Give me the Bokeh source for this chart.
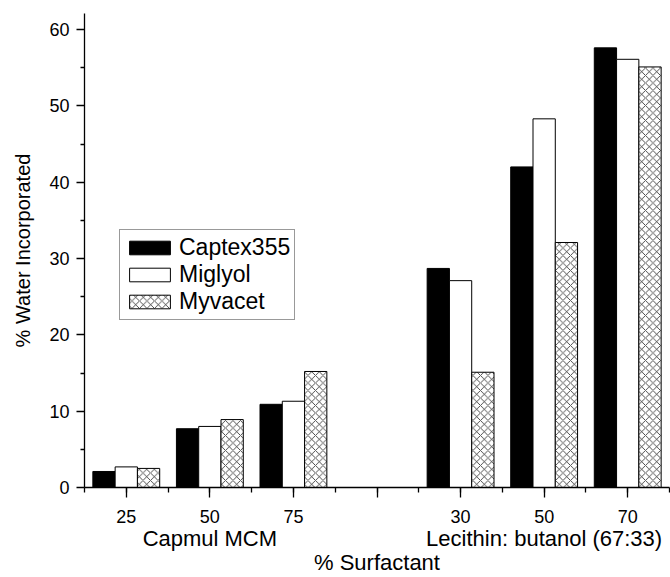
from bokeh.plotting import figure
from bokeh.models import (ColumnDataSource, Range1d, LinearAxis, FixedTicker,
                          Legend, LegendItem)
from bokeh.embed import file_html
from bokeh.resources import INLINE

# ---- data ----
groups = ["Capmul MCM", "Lecithin: butanol (67:33)"]
levels = [["25", "50", "75"], ["30", "50", "70"]]
series = ["Captex355", "Miglyol", "Myvacet"]
captex355 = [2.1, 7.7, 10.9, 28.7, 42.0, 57.6]
miglyol = [2.7, 8.0, 11.3, 27.1, 48.3, 56.1]
myvacet = [2.5, 8.9, 15.2, 15.1, 32.1, 55.1]
y_ticks = [0, 10, 20, 30, 40, 50, 60]

FONT = "Liberation Sans"

# category slots: each group is followed by an empty slot
xs, labels, tick_pos, tick_lab, group_pos = [], [], [], [], []
slot = 1
for gi, g in enumerate(groups):
    start = slot
    for lab in levels[gi]:
        xs.append(slot)
        labels.append(lab)
        tick_pos.append(slot)
        tick_lab.append(lab)
        slot += 1
    group_pos.append((start + slot - 1) / 2)
    if gi < len(groups) - 1:
        tick_pos.append(slot)
        tick_lab.append("")
        slot += 1
x_end = slot - 0.5

bar_w = 0.8 / len(series)
src = ColumnDataSource(dict(
    x0=[x - bar_w for x in xs], x1=xs, x2=[x + bar_w for x in xs],
    captex355=captex355, miglyol=miglyol, myvacet=myvacet))

p = figure(width=670, height=577, output_backend="svg", toolbar_location=None,
           x_range=Range1d(0.5, x_end), y_range=Range1d(0, 62.1),
           min_border_left=84, min_border_right=1, min_border_top=13,
           min_border_bottom=89)
p.grid.visible = False
p.outline_line_color = None
p.background_fill_color = "white"
p.border_fill_color = "white"

r1 = p.vbar(x="x0", top="captex355", width=bar_w, source=src,
            fill_color="black", line_color="black", line_width=1)
r2 = p.vbar(x="x1", top="miglyol", width=bar_w, source=src,
            fill_color="white", line_color="black", line_width=1)
r3 = p.vbar(x="x2", top="myvacet", width=bar_w, source=src,
            fill_color="white", line_color="black", line_width=1,
            hatch_pattern="x", hatch_color="black", hatch_scale=7.5,
            hatch_weight=0.7)

# y axis
ya = p.yaxis[0]
ya.ticker = FixedTicker(ticks=y_ticks,
                        minor_ticks=[t + 5 for t in y_ticks[:-1]])
ya.axis_label = "% Water Incorporated"
ya.axis_label_text_font = FONT
ya.axis_label_text_font_style = "normal"
ya.axis_label_text_font_size = "20px"
ya.axis_label_text_color = "black"
ya.axis_label_standoff = 12
ya.major_label_text_font = FONT
ya.major_label_text_font_size = "18px"
ya.major_label_text_color = "black"
ya.major_label_standoff = 7
ya.major_tick_out = 8
ya.major_tick_in = 0
ya.minor_tick_out = 4
ya.minor_tick_in = 0
ya.axis_line_width = 1.3
ya.major_tick_line_width = 1.3
ya.minor_tick_line_width = 1.3

# x axis (levels)
xa = p.xaxis[0]
minor = [0.5 + 0.5 * i for i in range(int((x_end - 0.5) * 2) + 1)]
xa.ticker = FixedTicker(ticks=tick_pos, minor_ticks=minor)
xa.major_label_overrides = {t: l for t, l in zip(tick_pos, tick_lab)}
xa.major_label_text_font = FONT
xa.major_label_text_font_size = "18px"
xa.major_label_text_color = "black"
xa.major_label_standoff = 12
xa.major_tick_out = 10
xa.major_tick_in = 0
xa.minor_tick_out = 5
xa.minor_tick_in = 0
xa.axis_line_width = 1.3
xa.major_tick_line_width = 1.3
xa.minor_tick_line_width = 1.3

# group axis
ga = LinearAxis(ticker=FixedTicker(ticks=group_pos, minor_ticks=[]),
                major_label_overrides={t: g for t, g in zip(group_pos, groups)},
                axis_line_color=None, major_tick_line_color=None,
                minor_tick_line_color=None, major_tick_out=0, major_tick_in=0,
                major_label_standoff=0,
                major_label_text_font=FONT, major_label_text_font_size="22px",
                major_label_text_color="black",
                axis_label="% Surfactant", axis_label_text_font=FONT,
                axis_label_text_font_style="normal",
                axis_label_text_color="black",
                axis_label_text_font_size="22px", axis_label_standoff=-4)
p.add_layout(ga, "below")

legend = Legend(items=[LegendItem(label=series[0], renderers=[r1]),
                       LegendItem(label=series[1], renderers=[r2]),
                       LegendItem(label=series[2], renderers=[r3])],
                location=(35, 167), glyph_width=51, glyph_height=17,
                label_height=17, label_standoff=4, spacing=0, padding=4,
                margin=0, label_text_font=FONT, label_text_font_size="23px",
                label_text_color="black",
                border_line_color="#333333", border_line_width=1,
                background_fill_alpha=1.0)
p.add_layout(legend, "center")

open("out.html", "w").write(file_html(p, INLINE))
